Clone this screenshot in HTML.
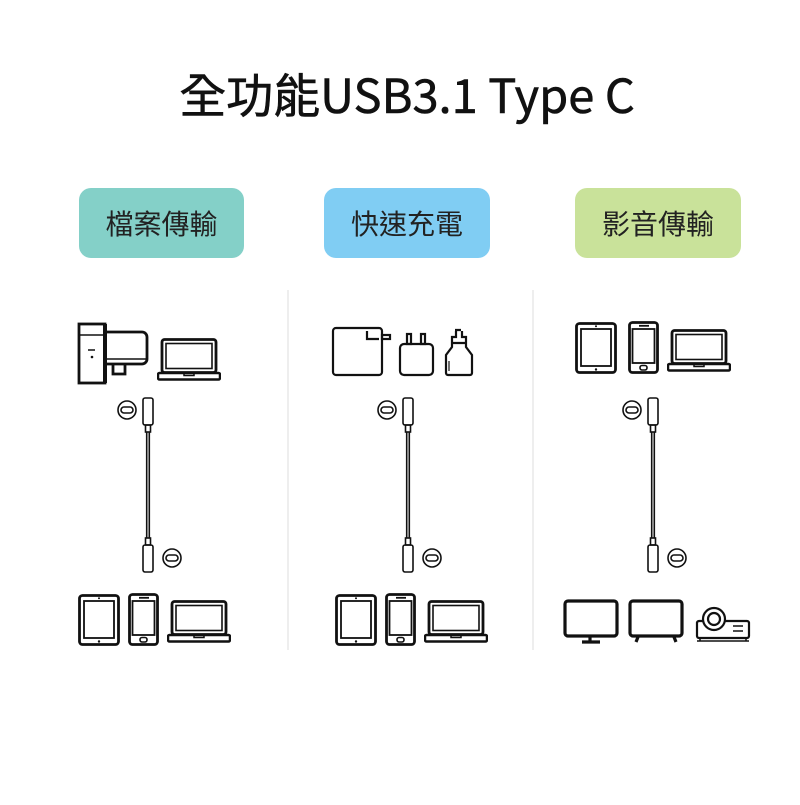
<!DOCTYPE html>
<html><head><meta charset="utf-8"><style>
body{margin:0;background:#fff}
</style></head><body>
<svg width="800" height="800" viewBox="0 0 800 800" xmlns="http://www.w3.org/2000/svg" font-family="Liberation Sans, Noto Sans CJK TC, sans-serif">
<defs>
<symbol id="tab" viewBox="0 0 42 52"><rect x="1.5" y="1.5" width="39" height="49" rx="3" fill="none" stroke="#111" stroke-width="2.8"/><rect x="6" y="7" width="30" height="37" fill="none" stroke="#111" stroke-width="1.8"/><circle cx="21" cy="4.3" r="1" fill="#111"/><circle cx="21" cy="47.5" r="1.2" fill="#111"/></symbol>
<symbol id="ph" viewBox="0 0 31 53"><rect x="1.5" y="1.5" width="28" height="50" rx="3" fill="none" stroke="#111" stroke-width="2.8"/><rect x="4.5" y="8" width="22" height="34" fill="none" stroke="#111" stroke-width="1.8"/><line x1="11" y1="4.8" x2="21" y2="4.8" stroke="#111" stroke-width="1.8"/><rect x="12" y="44.5" width="7" height="4.5" rx="2" fill="none" stroke="#111" stroke-width="1.6"/></symbol>
<symbol id="lap" viewBox="0 0 64 43"><rect x="5" y="1.5" width="54" height="33" rx="2.5" fill="none" stroke="#111" stroke-width="2.8"/><rect x="9" y="5.5" width="46" height="25" fill="none" stroke="#111" stroke-width="1.6"/><rect x="1" y="35" width="62" height="6.5" rx="1.5" fill="none" stroke="#111" stroke-width="2.5"/><path d="M27 35 v2.5 h10 v-2.5" fill="none" stroke="#111" stroke-width="1.5"/></symbol>
<g id="cable">
<g fill="none" stroke="#111" stroke-width="1.6">
<rect x="-5" y="0" width="10" height="27" rx="2"/><rect x="-2.5" y="27" width="5" height="7"/>
<line x1="-1.3" y1="34" x2="-1.3" y2="140"/><line x1="1.3" y1="34" x2="1.3" y2="140"/>
<rect x="-2.5" y="140" width="5" height="7"/><rect x="-5" y="147" width="10" height="27" rx="2"/>
<circle cx="-21" cy="12" r="9"/><rect x="-27" y="9" width="12" height="6" rx="3"/>
<circle cx="24" cy="160" r="9"/><rect x="18" y="157" width="12" height="6" rx="3"/>
</g></g>
</defs>
<text x="407" y="113" text-anchor="middle" font-size="47" fill="#111" stroke="#111" stroke-width="0.6" font-family="Noto Sans CJK TC, sans-serif">全功能USB3.1 Type C</text>
<rect x="79" y="188" width="165" height="70" rx="12" fill="#84d0c8"/>
<rect x="324" y="188" width="166" height="70" rx="12" fill="#80cdf3"/>
<rect x="575" y="188" width="166" height="70" rx="12" fill="#c9e29a"/>
<g font-size="28" fill="#222" text-anchor="middle">
<text x="161.5" y="234">檔案傳輸</text><text x="407" y="234">快速充電</text><text x="658" y="234">影音傳輸</text></g>
<line x1="288" y1="290" x2="288" y2="650" stroke="#e8e8e8" stroke-width="1.5"/>
<line x1="533" y1="290" x2="533" y2="650" stroke="#e8e8e8" stroke-width="1.5"/>
<g fill="none" stroke="#111" stroke-width="2.8">
<rect x="79" y="324" width="26" height="59" fill="#fff"/>
<path d="M105 332 h37 a5 5 0 0 1 5 5 v22 a5 5 0 0 1 -5 5 h-37"/>
<line x1="105" y1="359" x2="147" y2="359" stroke-width="1.5"/>
<path d="M113 364 v10 h12 v-10"/><line x1="79" y1="335" x2="105" y2="335" stroke-width="1.5"/>
<line x1="105" y1="324" x2="105" y2="383" stroke-width="4"/>
</g>
<line x1="88" y1="350" x2="95" y2="350" stroke="#111" stroke-width="1.5"/><circle cx="92" cy="357" r="1.3" fill="#111"/>
<use href="#lap" x="157" y="338" width="64" height="43"/>
<use href="#cable" transform="translate(148,398)"/>
<use href="#tab" x="78" y="594" width="42" height="52"/>
<use href="#ph" x="128" y="593" width="31" height="53"/>
<use href="#lap" x="167" y="600" width="64" height="43"/>
<g fill="none" stroke="#111" stroke-width="2.2">
<rect x="333" y="328" width="49" height="47" rx="3"/><path d="M367 331 v8 h12"/><rect x="382" y="335" width="8" height="4"/>
<rect x="400" y="344" width="33" height="31" rx="4"/><rect x="407" y="334" width="4" height="10"/><rect x="421" y="334" width="4" height="10"/>
<path d="M455 330 h6 M456 331 v6 h-4 v6 h14 v-6 h-4 v-6 M452 343 v4 l-6 8 v18 a2 2 0 0 0 2 2 h22 a2 2 0 0 0 2 -2 v-18 l-6 -8 v-4"/>
<line x1="449" y1="361" x2="449" y2="371" stroke-width="1.2"/>
</g>
<use href="#cable" transform="translate(408,398)"/>
<use href="#tab" x="335" y="594" width="42" height="52"/>
<use href="#ph" x="385" y="593" width="31" height="53"/>
<use href="#lap" x="424" y="600" width="64" height="43"/>
<use href="#tab" x="575" y="322" width="42" height="52"/>
<use href="#ph" x="628" y="321" width="31" height="53"/>
<use href="#lap" x="667" y="329" width="64" height="43"/>
<use href="#cable" transform="translate(653,398)"/>
<g fill="none" stroke="#111" stroke-width="3.2">
<rect x="565" y="601" width="52" height="35" rx="3"/><path d="M590 636 v5 M582 642 h18"/>
<rect x="630" y="601" width="52" height="35" rx="3"/><path d="M638 637 l-2 5 M674 637 l2 5"/>
</g>
<g fill="none" stroke="#111" stroke-width="2.2">
<rect x="697" y="621" width="52" height="17" rx="2"/><circle cx="714" cy="619" r="11" fill="#fff"/><circle cx="714" cy="619" r="6"/>
<path d="M733 626 h10 M733 631 h10" stroke-width="1.5"/><path d="M700 638 v3 M746 638 v3 M697 641 h52" stroke-width="1.5"/>
</g>
</svg>
</body></html>
